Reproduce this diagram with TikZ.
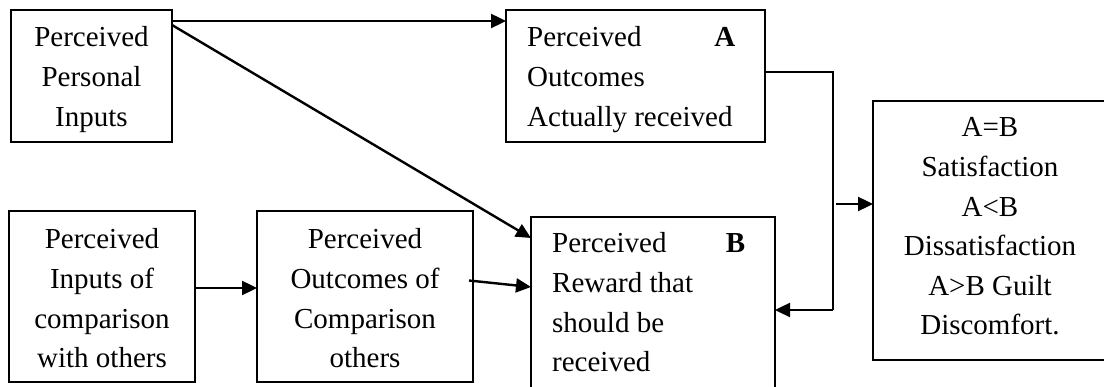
\documentclass[tikz,border=0pt]{standalone}
\usepackage{fontspec}
\setmainfont{Liberation Serif}
\usetikzlibrary{arrows.meta}
\newcommand{\ctext}[1]{\parbox[t]{260pt}{\centering #1}}
\newcommand{\ltext}[2]{\parbox[t]{#1}{\raggedright #2}}
\begin{document}
\begin{tikzpicture}[x=1pt,y=1pt,
  box/.style={draw, line width=2pt, inner sep=0pt, outer sep=0pt, anchor=north west},
  txt/.style={inner sep=0pt, anchor=base, font=\fontsize{29}{39.6}\selectfont},
  ltxt/.style={inner sep=0pt, anchor=base west, font=\fontsize{29}{39.6}\selectfont},
  conn/.style={line width=2pt},
  arr/.style={line width=2.4pt, -{Triangle[length=15pt,width=14pt]}}]
\clip (0,0) rectangle (1104,-387);
\fill[white] (0,0) rectangle (1104,-387);
% boxes
\node[box, minimum width=161pt, minimum height=132pt] (P1) at (11,-10) {};
\node[box, minimum width=259pt, minimum height=132pt] (A) at (506,-10) {};
\node[box, minimum width=186pt, minimum height=171pt] (Q1) at (9,-211) {};
\node[box, minimum width=216pt, minimum height=171pt] (Q2) at (257,-211) {};
\node[box, minimum width=244pt, minimum height=186pt] (B) at (531,-217) {};
\node[box, minimum width=234pt, minimum height=259pt] (R) at (873,-101) {};
% texts
\node[txt] (tP1) at (91.5,-47) {\ctext{Perceived\\Personal\\Inputs}};
\node[ltxt] (tA) at (527,-47) {\ltext{208pt}{Perceived\hfill\textbf{A}\\Outcomes\\Actually received}};
\node[txt] (tQ1) at (102,-249) {\ctext{Perceived\\Inputs of\\comparison\\with others}};
\node[txt] (tQ2) at (365,-249) {\ctext{Perceived\\Outcomes of\\Comparison\\others}};
\node[ltxt] (tB) at (552,-253) {\ltext{193pt}{Perceived\hfill\textbf{B}\\Reward that\\should be\\received}};
\node[txt] (tR) at (990,-137) {\ctext{A=B\\Satisfaction\\A<B\\Dissatisfaction\\A>B Guilt\\Discomfort.}};
% connectors
\draw[arr] ([yshift=-11pt]P1.north east) -- ([yshift=-11pt]A.north west);
\draw[arr] ([yshift=-15pt]P1.north east) -- ([yshift=-21pt]B.north west);
\draw[arr] ([yshift=8.5pt]Q1.east) -- ([yshift=8.5pt]Q2.west);
\draw[arr] ([xshift=-4pt,yshift=16pt]Q2.east) -- ([yshift=-70pt]B.north west);
\coordinate (bt) at (833,-72);
\coordinate (bb) at (833,-310);
\draw[conn] ([yshift=4pt]A.east) -- (bt) -- (bb);
\draw[arr] (bb) -- (B.east);
\coordinate (rs) at (836,-204);
\draw[arr] (rs) -- ([yshift=26.5pt]R.west);
\end{tikzpicture}
\end{document}
